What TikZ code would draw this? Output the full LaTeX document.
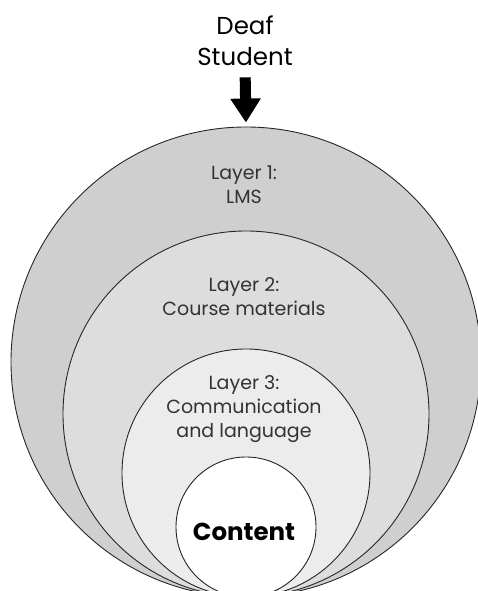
\documentclass[tikz,border=0pt]{standalone}
\usepackage{fontspec}
\setmainfont{Poppins}
\usetikzlibrary{positioning,arrows.meta}
\definecolor{ringA}{RGB}{208,207,208}
\definecolor{ringB}{RGB}{222,221,222}
\definecolor{ringC}{RGB}{237,236,237}
\begin{document}
\begin{tikzpicture}[x=1pt,y=1pt,line join=round,
  ring/.style={circle,draw=black!85,line width=0.9pt,inner sep=0pt},
  lbl/.style={align=center,inner sep=0pt,text=black!80,font=\fontsize{19}{24}\selectfont}]
\useasboundingbox (0,0) rectangle (478,591);
\begin{scope}
\clip (0,0) rectangle (478,591);
\node[ring,fill=ringA,minimum size=470pt] (layer1) at (246,229) {};
\node[ring,fill=ringB,minimum size=366pt] (layer2) at (246,177) {};
\node[ring,fill=ringC,minimum size=248pt] (layer3) at (246,118) {};
\node[ring,fill=white,minimum size=140pt] (content) at (246,64) {};
\end{scope}
\node[lbl,below=39pt of layer1.north,xshift=-2pt] (lms) {Layer 1:\\LMS};
\node[lbl,below=47pt of layer2.north,xshift=-2pt] (materials) {Layer 2:\\Course materials};
\node[lbl,below=27pt of layer3.north,xshift=-2pt] (language) {Layer 3:\\Communication\\and language};
\node[inner sep=0pt,font=\fontsize{24.5}{30}\selectfont\bfseries] (core) at ([xshift=-2pt,yshift=-5pt]content.center) {Content};
\node[lbl,anchor=north,text=black,font=\fontsize{24.5}{31}\selectfont] (student) at (245,575) {Deaf\\Student};
\draw[line width=11pt,-{Triangle[width=29pt,length=24pt]},shorten <=11pt,shorten >=4pt] (student.south) -- (layer1.north);
\end{tikzpicture}
\end{document}
